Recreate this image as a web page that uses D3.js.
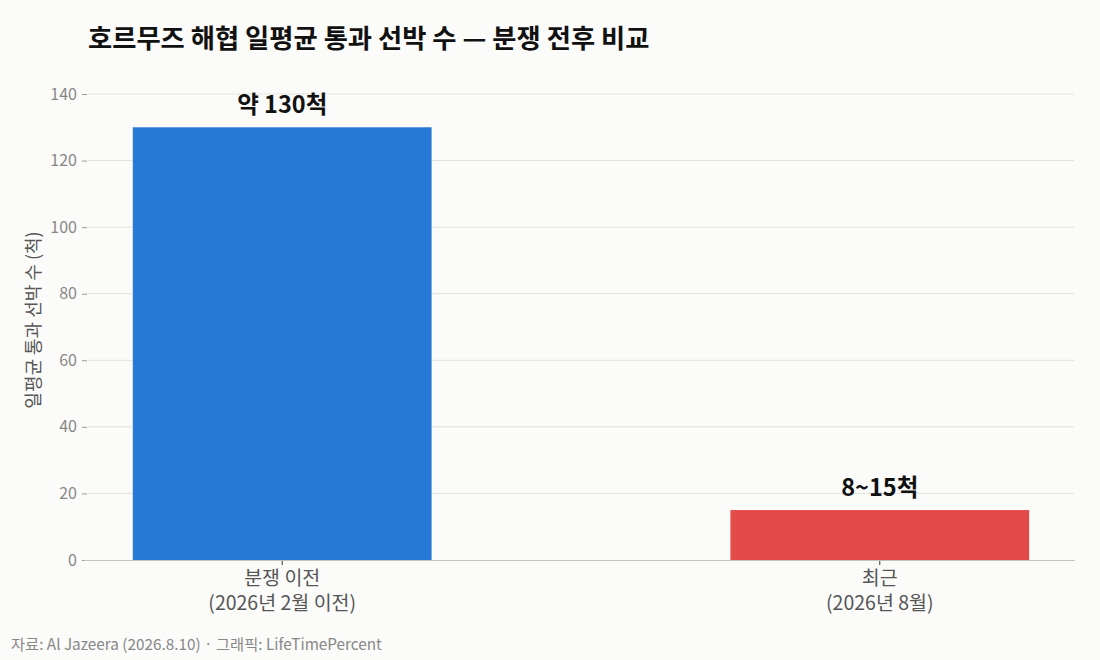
<!DOCTYPE html>
<html><head><meta charset="utf-8">
<script src="https://cdn.jsdelivr.net/npm/d3@7"></script>
<style>
html,body{margin:0;padding:0;background:#fbfbf9;}
svg{display:block;font-family:"Noto Sans CJK KR","Noto Sans",sans-serif;}
</style></head><body>
<svg id="c" width="1100" height="660"></svg>
<script>
const categories = ["분쟁 이전","최근"];
const subLabels = ["(2026년 2월 이전)","(2026년 8월)"];
const values = [130, 15];
const valueLabels = ["약 130척","8~15척"];
const colors = ["#2878d6","#e34a4a"];
const yTicks = [0,20,40,60,80,100,120,140];
const title = "호르무즈 해협 일평균 통과 선박 수 — 분쟁 전후 비교";
const yTitle = "일평균 통과 선박 수 (척)";
const source = "자료: Al Jazeera (2026.8.10) · 그래픽: LifeTimePercent";

const svg = d3.select("#c");
const L = 88, R = 1074, T = 94, B = 560;
const x = d3.scaleBand().domain(d3.range(values.length)).range([L,R]).paddingInner(0.5).paddingOuter(0.075);
const y = d3.scaleLinear().domain([0,140]).range([B,T]);
const cx = i => x(i) + x.bandwidth()/2;

svg.append("rect").attr("width",1100).attr("height",660).attr("fill","#fbfbf9");

// grid
svg.append("g").selectAll("line").data(yTicks.filter(d=>d>0)).join("line")
  .attr("x1",L).attr("x2",R).attr("y1",d=>y(d)).attr("y2",d=>y(d))
  .attr("stroke","#e2e2dc").attr("stroke-width",1);

// y axis
const ya = svg.append("g").attr("transform",`translate(${L},0)`)
  .call(d3.axisLeft(y).tickValues(yTicks).tickSize(5).tickPadding(6));
ya.select(".domain").remove();
ya.selectAll(".tick line").attr("stroke","#999").attr("transform","translate(-1,0)");
ya.selectAll(".tick text").attr("fill","#888").attr("font-size",16).attr("font-family","'Noto Sans CJK KR'");

// bars
svg.append("g").selectAll("rect").data(values).join("rect")
  .attr("x",(d,i)=>x(i)).attr("width",x.bandwidth())
  .attr("y",d=>y(d)).attr("height",d=>B-y(d))
  .attr("fill",(d,i)=>colors[i]);

// baseline
svg.append("line").attr("x1",L-4).attr("x2",R+1).attr("y1",B+0.5).attr("y2",B+0.5)
  .attr("stroke","#c4c4bc").attr("stroke-width",1.2);

// x ticks
svg.append("g").selectAll("line").data(values).join("line")
  .attr("x1",(d,i)=>cx(i)).attr("x2",(d,i)=>cx(i))
  .attr("y1",B+1).attr("y2",B+5).attr("stroke","#333");

// x labels
svg.append("g").selectAll("text").data(categories).join("text")
  .attr("x",(d,i)=>cx(i)).attr("y",B+25)
  .attr("text-anchor","middle").attr("fill","#555").attr("font-size",19.5).text(d=>d);
svg.append("g").selectAll("text").data(subLabels).join("text")
  .attr("x",(d,i)=>cx(i)).attr("y",B+50)
  .attr("text-anchor","middle").attr("fill","#555").attr("font-size",19.5).text(d=>d);

// value labels
svg.append("g").selectAll("text").data(values).join("text")
  .attr("x",(d,i)=>cx(i)).attr("y",d=>y(d)-14)
  .attr("text-anchor","middle").attr("font-size",23.5).attr("font-weight","bold").attr("fill","#111")
  .text((d,i)=>valueLabels[i]);

// title
svg.append("text").attr("x",88).attr("y",48).attr("font-size",26.3).attr("font-weight","bold").attr("fill","#111").text(title);

// y title
svg.append("text").attr("transform","translate(40,320) rotate(-90)").attr("text-anchor","middle")
  .attr("font-size",18).attr("fill","#555").text(yTitle);

// source
svg.append("text").attr("x",11).attr("y",650).attr("font-size",15.3).attr("fill","#888").text(source);
</script>
</body></html>
